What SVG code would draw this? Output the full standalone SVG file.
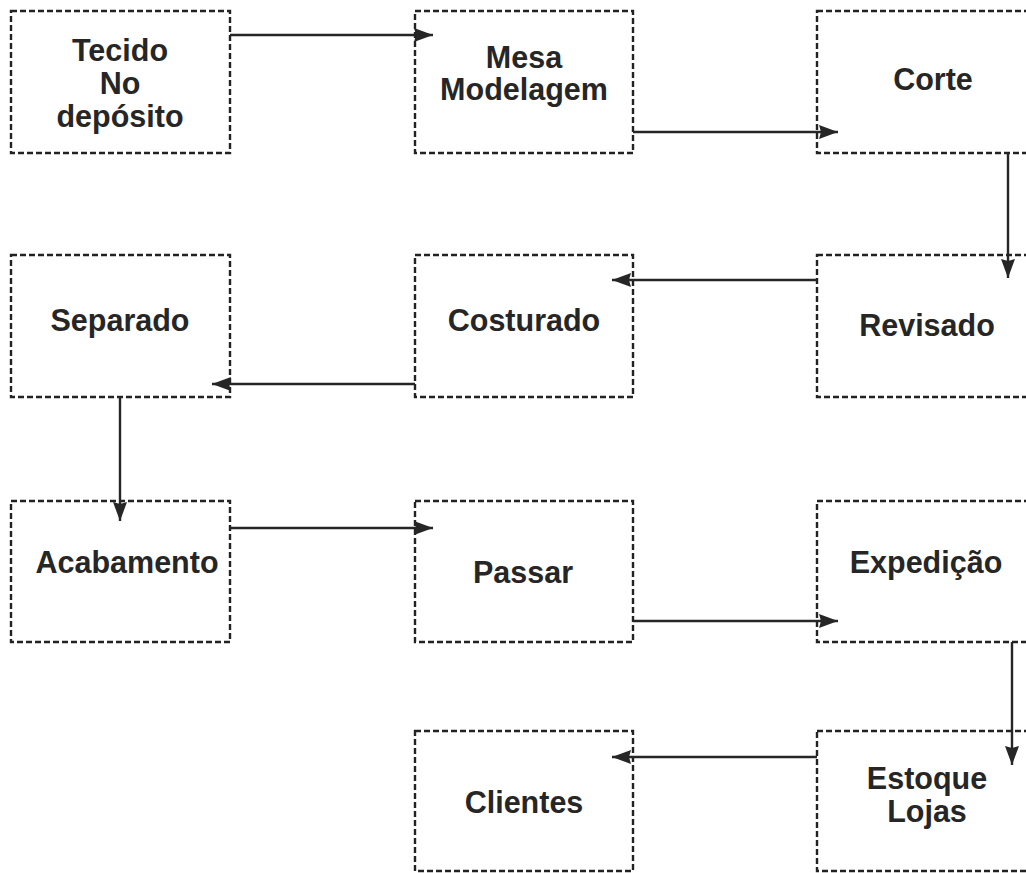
<svg xmlns="http://www.w3.org/2000/svg" width="1026" height="873" viewBox="0 0 1026 873">
<style>
.box{fill:#fff;stroke:#222;stroke-width:2.4;stroke-dasharray:6 3}
.lbl{font-family:"Liberation Sans",Arial,sans-serif;font-weight:bold;font-size:30.5px;fill:#262626;text-anchor:middle}
.con{stroke:#262626;stroke-width:2.4;fill:none;marker-end:url(#ah)}
</style>
<defs>
<marker id="ah" viewBox="-19 -8 19 16" refX="0" refY="0" markerWidth="19" markerHeight="16" markerUnits="userSpaceOnUse" orient="auto">
<path d="M0,0 L-19,-7 L-17,0 L-19,7 Z" fill="#262626"/>
</marker>
</defs>
<rect width="1026" height="873" fill="#fff"/>
<g id="n1"><rect class="box" x="11" y="11" width="219" height="142"/><text class="lbl" x="120" y="61">Tecido</text><text class="lbl" x="120" y="94">No</text><text class="lbl" x="120" y="127">depósito</text></g>
<g id="n2"><rect class="box" x="415" y="11" width="218" height="142"/><text class="lbl" x="524" y="68">Mesa</text><text class="lbl" x="524" y="100">Modelagem</text></g>
<g id="n3"><rect class="box" x="817" y="11" width="219" height="142"/><text class="lbl" x="933" y="90">Corte</text></g>
<g id="n4"><rect class="box" x="11" y="255" width="219" height="142"/><text class="lbl" x="120" y="331">Separado</text></g>
<g id="n5"><rect class="box" x="415" y="255" width="218" height="142"/><text class="lbl" x="524" y="331">Costurado</text></g>
<g id="n6"><rect class="box" x="817" y="255" width="219" height="142"/><text class="lbl" x="927" y="336">Revisado</text></g>
<g id="n7"><rect class="box" x="11" y="501" width="219" height="141"/><text class="lbl" x="127" y="573">Acabamento</text></g>
<g id="n8"><rect class="box" x="415" y="501" width="218" height="141"/><text class="lbl" x="523" y="583">Passar</text></g>
<g id="n9"><rect class="box" x="817" y="501" width="219" height="141"/><text class="lbl" x="926" y="573">Expedição</text></g>
<g id="n10"><rect class="box" x="415" y="731" width="218" height="140"/><text class="lbl" x="524" y="813">Clientes</text></g>
<g id="n11"><rect class="box" x="817" y="731" width="219" height="140"/><text class="lbl" x="927" y="789">Estoque</text><text class="lbl" x="927" y="822">Lojas</text></g>
<g id="connectors">
<path class="con" d="M230,35 H433"/>
<path class="con" d="M633,132 H838"/>
<path class="con" d="M1008,153 V278"/>
<path class="con" d="M817,280 H612"/>
<path class="con" d="M415,384 H212"/>
<path class="con" d="M120,397 V521"/>
<path class="con" d="M230,528 H433"/>
<path class="con" d="M633,621 H838"/>
<path class="con" d="M1012,642 V765"/>
<path class="con" d="M817,757 H612"/>
</g>
</svg>
